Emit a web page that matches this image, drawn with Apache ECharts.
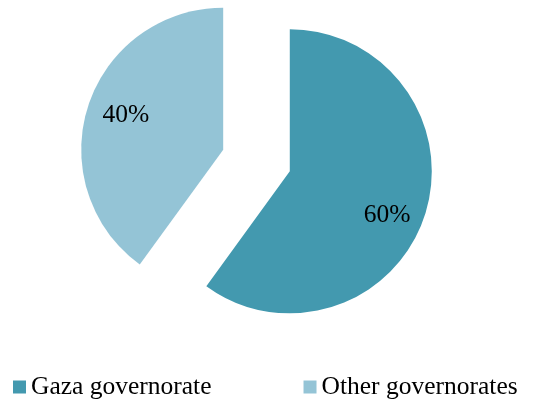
<!DOCTYPE html>
<html>
<head>
<meta charset="utf-8">
<script src="https://cdn.jsdelivr.net/npm/echarts@6/dist/echarts.min.js"></script>
<style>
  html, body { margin: 0; padding: 0; background: #fff; }
  #chart { width: 535px; height: 401px; }
</style>
</head>
<body>
<div id="chart"></div>
<script>
// Share of cases by governorate
const categories = ['Gaza governorate', 'Other governorates'];
const shares = [60, 40];
const colors = ['#4399AF', '#94C4D6'];
// nudges that move each percent label off the slice midline
const labelShift = [[27, 21], [-27, -12]];

const FONT = '"Liberation Serif", "Times New Roman", serif';

const chart = echarts.init(document.getElementById('chart'), null, { renderer: 'canvas' });

chart.setOption({
  animation: false,
  backgroundColor: '#ffffff',
  legend: {
    data: categories,
    left: 8,
    top: 369,
    itemWidth: 13,
    itemHeight: 13,
    itemGap: 92,
    icon: 'rect',
    selectedMode: false,
    textStyle: { fontFamily: FONT, fontSize: 25.5, color: '#000' }
  },
  series: [{
    type: 'pie',
    center: [256.5, 160.5],
    radius: [0, 142],
    startAngle: 90,
    clockwise: true,
    selectedMode: 'multiple',
    selectedOffset: 35,
    silent: true,
    emphasis: { disabled: true },
    labelLine: { show: false },
    label: {
      show: true,
      position: 'inside',
      fontFamily: FONT,
      fontSize: 25.5,
      color: '#000',
      formatter: p => p.value + '%'
    },
    labelLayout: p => ({ dx: labelShift[p.dataIndex][0], dy: labelShift[p.dataIndex][1] }),
    itemStyle: { borderWidth: 0 },
    data: categories.map((name, i) => ({
      name,
      value: shares[i],
      selected: true,
      itemStyle: { color: colors[i] }
    }))
  }]
});
</script>
</body>
</html>
